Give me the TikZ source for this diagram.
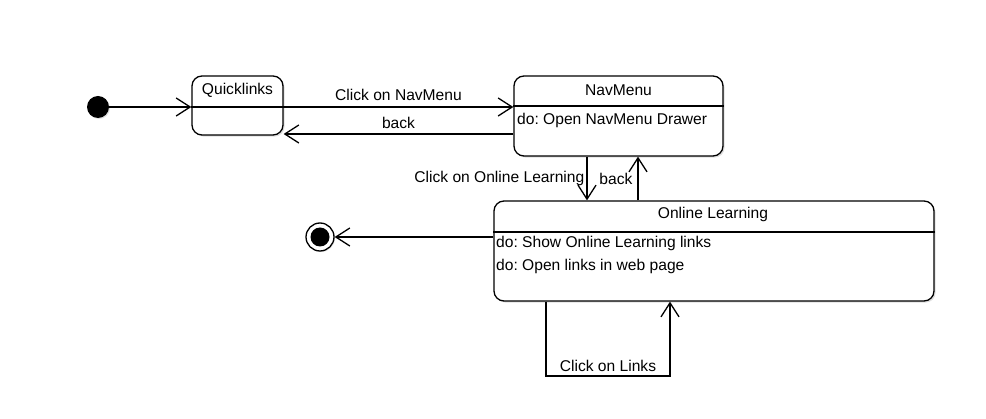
\documentclass[tikz,border=0pt]{standalone}
\usepackage{fontspec}
\setmainfont{Liberation Sans}
\frenchspacing
\usetikzlibrary{arrows.meta,shadows}
\begin{document}
\begin{tikzpicture}[x=1pt,y=-1pt,
  every node/.style={font=\fontsize{15.6}{18}\selectfont, inner sep=2pt},
  statebox/.style={draw, line width=1.3pt, rounded corners=10pt, fill=white,
    drop shadow={shadow xshift=1.6pt, shadow yshift=-1.6pt, opacity=0.25}},
  sep/.style={line width=1.3pt},
  arr/.style={line width=1.3pt, -{Straight Barb[length=14pt,width=18pt,line width=1.3pt]}},
  lbl/.style={inner sep=2pt},
  act/.style={anchor=west, inner sep=0pt}]
\useasboundingbox (0,0) rectangle (986,419);
% states
\node[statebox, minimum width=91pt, minimum height=59pt] (ql) at (237.5,105.5) {};
\node[statebox, minimum width=209pt, minimum height=80pt] (nav) at (618.5,116) {};
\node[statebox, minimum width=440pt, minimum height=100pt] (ol) at (714,251) {};
% separators
\draw[sep] (ql.west |- 0,107) -- (ql.east |- 0,107);
\draw[sep] (nav.west |- 0,106) -- (nav.east |- 0,106);
\draw[sep] (ol.west |- 0,232) -- (ol.east |- 0,232);
% titles and activities
\node (qlt) at (237.5,90) {Quicklinks};
\node (navt) at (618.5,90.5) {NavMenu};
\node[act] (nava) at (517,120) {do: Open NavMenu Drawer};
\node (olt) at (713,214.5) {Online Learning};
\node[act] (ola1) at (496,243.5) {do: Show Online Learning links};
\node[act] (ola2) at (496,266.5) {do: Open links in web page};
% pseudo states
\node[circle, fill=black, minimum size=22pt, inner sep=0pt,
  drop shadow={shadow xshift=1pt, shadow yshift=-1pt, opacity=0.25}] (init) at (98,107) {};
\node[circle, draw, line width=1.3pt, fill=white, minimum size=28pt, inner sep=0pt,
  drop shadow={shadow xshift=1pt, shadow yshift=-1pt, opacity=0.25}] (fin) at (320,237) {};
\node[circle, fill=black, minimum size=19pt, inner sep=0pt] (finin) at (fin) {};
% transitions
\draw[arr] (init) -- (init -| ql.west);
\draw[arr] (ql.east |- 0,107) -- node[lbl, above, yshift=3.5pt] {Click on NavMenu} (nav.west |- 0,107);
\draw[arr] (nav.west |- 0,134) -- node[lbl, above, yshift=2.5pt] {back} (ql.east |- 0,134);
\draw[arr] (nav.south -| 587,0) -- node[lbl, left, pos=0.5] {Click on Online Learning} (ol.north -| 587,0);
\draw[arr] (ol.north -| 638,0) -- node[lbl, left, pos=0.5, inner sep=5pt] {back} (nav.south -| 638,0);
\draw[arr] (ol.west |- 0,237) -- (fin.east);
\coordinate (l1) at (546,376);
\coordinate (l2) at (670,376);
\draw[arr] (ol.south -| l1) -- (l1) -- node[lbl, above, yshift=2pt] {Click on Links} (l2) -- (ol.south -| l2);
\end{tikzpicture}
\end{document}
